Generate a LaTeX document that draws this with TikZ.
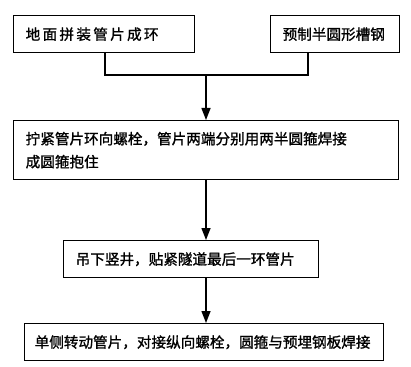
\documentclass[tikz,border=0pt]{standalone}
\usepackage{fontspec}
\newfontfamily\cjk[FakeBold=1.2]{Noto Sans CJK SC}
\usetikzlibrary{arrows.meta}
\newcommand{\lsp}{\hspace{2.3pt}}
\begin{document}
\begin{tikzpicture}[
  box/.style={draw, line width=1.4pt, anchor=north west, inner ysep=0pt,
    align=left, font=\cjk\fontsize{14.6pt}{23pt}\selectfont},
  conn/.style={line width=1.4pt},
  arr/.style={line width=1.4pt, -{Triangle[length=12pt,width=9pt]}}
]
\useasboundingbox (0,0) rectangle (411pt,-366pt);
\node[box, minimum height=37pt, text width=157pt, inner xsep=12pt] (b1) at (13pt,-15pt)
  {\mbox{地\lsp 面\lsp 拼\lsp 装\lsp 管\lsp 片\lsp 成\lsp 环}};
\node[box, minimum height=37pt, text width=105pt, inner xsep=12pt] (b2) at (270pt,-15pt)
  {预制半圆形槽钢};
\node[box, minimum height=59pt, text width=361pt, inner xsep=12pt] (b3) at (13pt,-120pt)
  {拧紧管片环向螺栓，管片两端分别用两半圆箍焊接\\成圆箍抱住};
\node[box, minimum height=37pt, text width=231pt, inner xsep=12pt] (b4) at (63pt,-240pt)
  {吊下竖井，贴紧隧道最后一环管片};
\node[box, minimum height=37pt, text width=339pt, inner xsep=10pt] (b5) at (24pt,-323pt)
  {单侧转动管片，对接纵向螺栓，圆箍与预埋钢板焊接};
\coordinate (jl) at (105pt,-75pt);
\coordinate (jr) at (308pt,-75pt);
\coordinate (j) at (206pt,-75pt);
\draw[conn] (b1.south -| jl) -- (jl) -- (jr) -- (b2.south -| jr);
\draw[arr] (j) -- (b3.north -| j);
\draw[arr] (b3.south -| j) -- (b4.north -| j);
\draw[arr] (b4.south -| j) -- (b5.north -| j);
\end{tikzpicture}
\end{document}
